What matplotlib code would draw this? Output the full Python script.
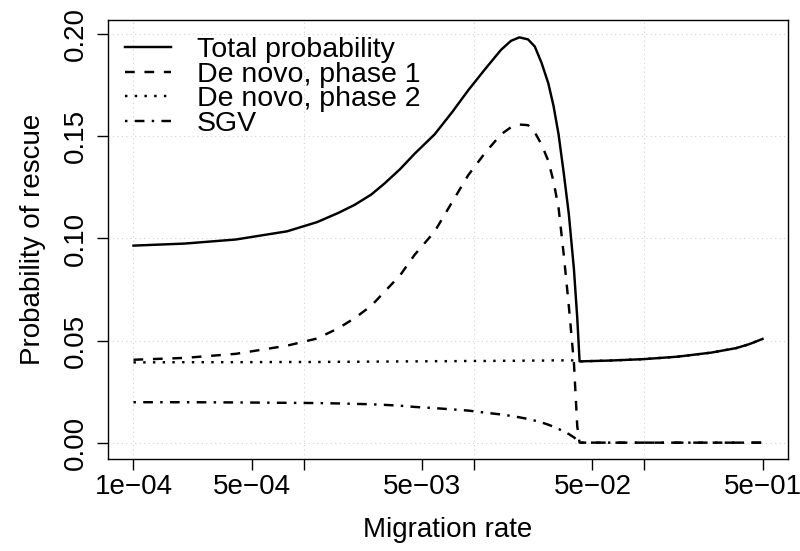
import matplotlib
matplotlib.use("Agg")
import matplotlib.pyplot as plt
import numpy as np

plt.rcParams['font.family'] = ['Liberation Sans', 'DejaVu Sans']

# migration rate (x) and probabilities
migration = [1e-4, 2e-4, 4e-4, 8e-4, 1.2e-3, 1.6e-3, 2e-3, 2.5e-3, 3e-3, 3.7e-3,
             4.5e-3, 5.9e-3, 7.5e-3, 9.3e-3,
             0.0117, 0.0145, 0.0166, 0.0186, 0.0209, 0.0229, 0.0251, 0.0275,
             0.0295, 0.0316, 0.0339, 0.0363, 0.0389, 0.0407, 0.0420,
             0.063, 0.1, 0.158, 0.25, 0.35, 0.42, 0.5]

total = [0.0965, 0.0975, 0.0995, 0.1035, 0.108, 0.1125, 0.1165, 0.1215, 0.127, 0.134,
         0.1415, 0.151, 0.162, 0.1726,
         0.183, 0.1924, 0.1968, 0.1985, 0.1975, 0.194, 0.186, 0.176,
         0.165, 0.151, 0.132, 0.112, 0.085, 0.061, 0.0398,
         0.0402, 0.0409, 0.0421, 0.0441, 0.0463, 0.0483, 0.0508]

phase1 = [0.0406, 0.0415, 0.0435, 0.0475, 0.051, 0.056, 0.061, 0.067, 0.074, 0.082,
          0.092, 0.1034, 0.118, 0.131,
          0.142, 0.151, 0.1545, 0.1558, 0.1555, 0.152, 0.146, 0.138,
          0.128, 0.115, 0.092, 0.067, 0.039, 0.008, 0.0,
          0.0, 0.0, 0.0, 0.0, 0.0, 0.0, 0.0]

phase2 = [0.0393, 0.0394, 0.0394, 0.0395, 0.0395, 0.0396, 0.0396, 0.0397, 0.0397, 0.0398,
          0.0398, 0.0399, 0.0399, 0.0400,
          0.0400, 0.0401, 0.0401, 0.0401, 0.0402, 0.0402, 0.0402, 0.0402,
          0.0403, 0.0403, 0.0403, 0.0403, 0.0403, 0.0403, 0.0398,
          0.0402, 0.0409, 0.0421, 0.0441, 0.0463, 0.0483, 0.0508]

sgv = [0.0198, 0.0198, 0.0197, 0.0195, 0.0194, 0.0192, 0.0190, 0.0188, 0.0185, 0.0181,
       0.0175, 0.0169, 0.0163, 0.0157,
       0.0147, 0.0138, 0.0131, 0.0124, 0.0116, 0.0108, 0.0099, 0.0088,
       0.0078, 0.0067, 0.0055, 0.0042, 0.0026, 0.0012, 0.0,
       0.0, 0.0, 0.0, 0.0, 0.0, 0.0, 0.0]

labels = ["Total probability", "De novo, phase 1", "De novo, phase 2", "SGV"]

xticks = [1e-4, 5e-4, 1e-3, 5e-3, 1e-2, 5e-2, 1e-1, 5e-1]
xticklabels = ["1e\u221204", "5e\u221204", "", "5e\u221203", "", "5e\u221202", "", "5e\u221201"]
xgrid = [1e-4, 1e-3, 1e-2, 1e-1]
yticks = [0.0, 0.05, 0.10, 0.15, 0.20]

fig = plt.figure(figsize=(8, 5.51), dpi=100)
ax = fig.add_axes([0.1354, 0.167, 0.8492, 0.7967])

lw = 1.75
ax.plot(migration, total, color="black", lw=lw, label=labels[0])
ax.plot(migration, phase1, color="black", lw=lw, linestyle=(0, (4, 4)), label=labels[1])
ax.plot(migration, phase2, color="black", lw=lw, linestyle=(0, (1, 3)), label=labels[2])
ax.plot(migration, sgv, color="black", lw=lw, linestyle=(0, (1, 3, 4, 3)), label=labels[3])

ax.set_xscale("log")
lo, hi = np.log10(1e-4), np.log10(0.5)
pad = 0.04 * (hi - lo)
ax.set_xlim(10 ** (lo - pad), 10 ** (hi + pad))
ax.set_ylim(-0.008, 0.207)

for g in xgrid:
    ax.axvline(g, color="lightgray", lw=0.8, linestyle=(0, (1, 3)), zorder=0)
for g in yticks:
    ax.axhline(g, color="lightgray", lw=0.8, linestyle=(0, (1, 3)), zorder=0)

ax.set_xticks(xticks)
ax.set_xticklabels(xticklabels)
ax.xaxis.set_minor_locator(matplotlib.ticker.NullLocator())
ax.set_yticks(yticks)
ax.set_yticklabels(["%.2f" % v for v in yticks], rotation=90, va="center")

ax.tick_params(axis="both", length=8, width=1, labelsize=20, color="black")
ax.tick_params(axis="x", pad=3)
ax.tick_params(axis="y", pad=6)
for s in ax.spines.values():
    s.set_linewidth(1)

ax.set_xlabel("Migration rate", fontsize=20, labelpad=12)
ax.set_ylabel("Probability of rescue", fontsize=20, labelpad=12)

ax.legend(loc="upper left", frameon=False, fontsize=20.5, handlelength=1.6,
          handletextpad=0.9, labelspacing=-0.05, borderpad=0.1,
          borderaxespad=0.5)

fig.savefig("out.png", dpi=100)
